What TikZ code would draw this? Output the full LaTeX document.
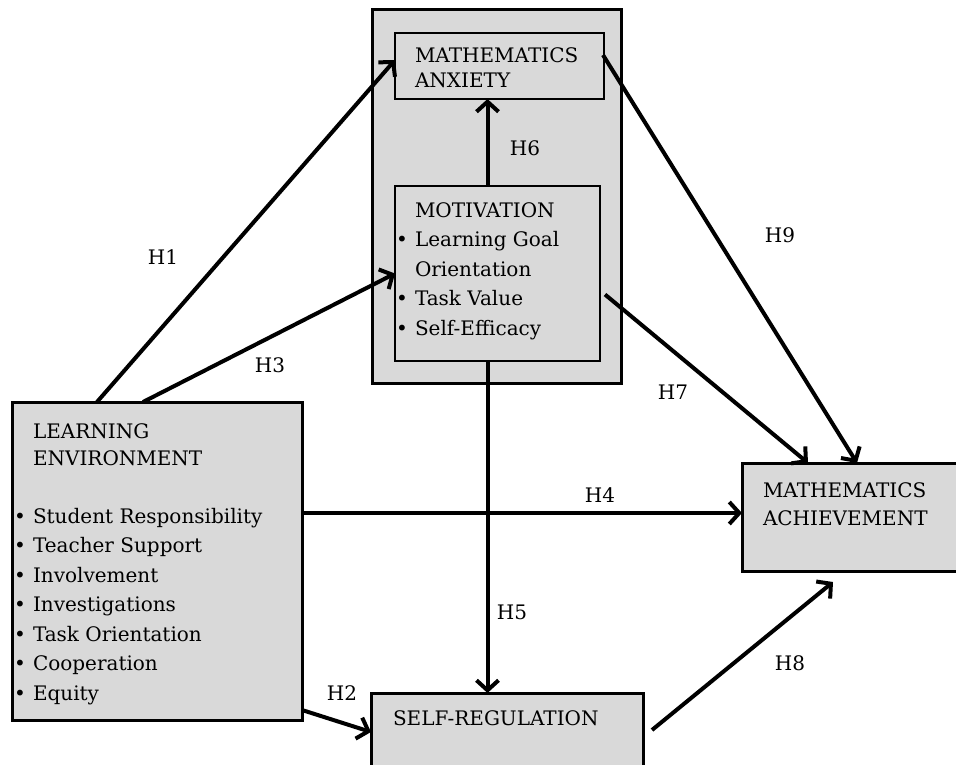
\documentclass[tikz,border=0pt]{standalone}
\usepackage{fontspec}
\setmainfont{DejaVu Serif}
\usetikzlibrary{arrows.meta}
\definecolor{boxgray}{RGB}{217,217,217}
\newcommand\bulitem{\llap{\makebox[26pt]{\textbullet}}}

\begin{document}
\begin{tikzpicture}[x=1pt,y=-1pt,inner sep=0pt,outer sep=0pt,
font=\fontsize{20}{29.5}\selectfont,
bigblock/.style={draw,rectangle,fill=boxgray,line width=3pt},
subblock/.style={draw,rectangle,fill=boxgray,line width=1.5pt},
boxtext/.style={anchor=north west,align=left},
hyparrow/.style={line width=4pt,-{Straight Barb[length=10pt,width=22pt]}}]

\useasboundingbox (0,0) rectangle (956,765);
\clip (0,0) rectangle (956,765);

% boxes
\draw (496.5,196.5) node[bigblock,minimum width=249pt,minimum height=373pt] (group) {};
\draw (499.5,66) node[subblock,minimum width=209pt,minimum height=66pt] (anx) {};
\draw (497.5,273.5) node[subblock,minimum width=205pt,minimum height=175pt] (mot) {};
\draw (157,561) node[bigblock,minimum width=290pt,minimum height=318pt] (le) {};
\draw (852,517) node[bigblock,minimum width=220pt,minimum height=108pt] (ach) {};
\draw (507,739) node[bigblock,minimum width=272pt,minimum height=92pt] (sr) {};

% box texts
\draw (415,47.5) node[boxtext] (anxtext) {MATHEMATICS\\[-4.5pt]ANXIETY};
\draw (415,202.5) node[boxtext] (mottext) {MOTIVATION\\
\bulitem Learning Goal\\Orientation\\\bulitem Task Value\\\bulitem Self-Efficacy};
\draw (33,423.5) node[boxtext] (letext) {LEARNING\\[-2.5pt]ENVIRONMENT\\[28.5pt]
\bulitem Student Responsibility\\\bulitem Teacher Support\\\bulitem Involvement\\
\bulitem Investigations\\\bulitem Task Orientation\\\bulitem Cooperation\\\bulitem Equity};
\draw (763,482.5) node[boxtext] (achtext) {MATHEMATICS\\[-1.5pt]ACHIEVEMENT};
\draw (393,710.5) node[boxtext] (srtext) {SELF-REGULATION};

% hypotheses
\draw[hyparrow] ([xshift=85pt]le.north west) -- ([yshift=6pt]anx.west);
\draw[hyparrow] ([yshift=-149pt]le.east) -- ([yshift=7pt]sr.west);
\draw[hyparrow] ([xshift=131pt]le.north west) -- (mot.west);
\draw[hyparrow] ([yshift=48pt]le.east) coordinate (h4s) -- (h4s -| ach.west);
\draw[hyparrow] ([xshift=-10pt]mot.south) coordinate (h5s) -- (h5s |- sr.north);
\draw[hyparrow] ([xshift=-10pt]mot.north) coordinate (h6s) -- (h6s |- anx.south);
\draw[hyparrow] ([shift={(5pt,-21pt)}]mot.east) -- ([xshift=66pt]ach.north west);
\draw[hyparrow] ([shift={(9pt,9pt)}]sr.east) -- ([shift={(91pt,-11pt)}]ach.south west);
\draw[hyparrow] ([shift={(-1pt,11pt)}]anx.east) -- ([xshift=115pt]ach.north west);

\draw (163,257) node (h1) {H1};
\draw (342,693) node (h2) {H2};
\draw (270,365) node (h3) {H3};
\draw (600,495) node (h4) {H4};
\draw (512,612) node (h5) {H5};
\draw (525,148) node (h6) {H6};
\draw (673,392) node (h7) {H7};
\draw (790,663) node (h8) {H8};
\draw (780,235) node (h9) {H9};
\end{tikzpicture}
\end{document}
